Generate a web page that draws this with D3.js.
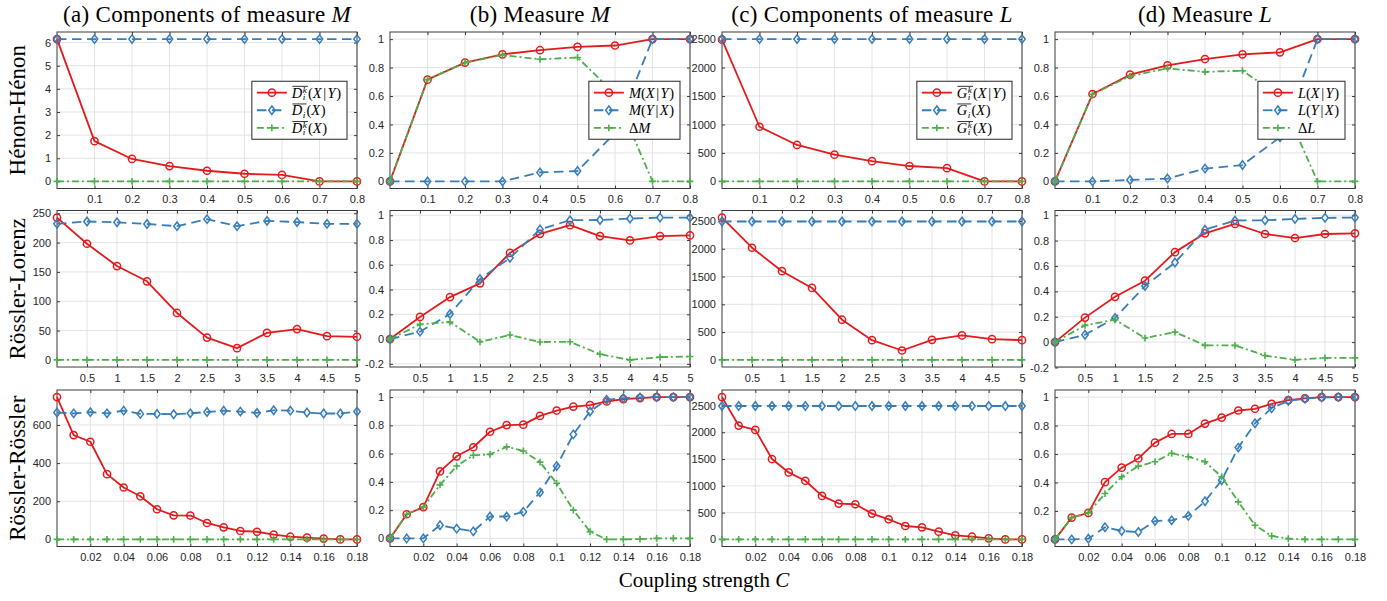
<!DOCTYPE html>
<html><head><meta charset="utf-8">
<script src="https://cdn.jsdelivr.net/npm/d3@7"></script>
<style>body{margin:0;background:#fff}svg{display:block}</style>
</head><body>
<svg id="c" width="1387" height="601"></svg>
<script>
// ---------------- data ----------------
const xHH = [0, 0.1, 0.2, 0.3, 0.4, 0.5, 0.6, 0.7, 0.8];
const xRL = [0, 0.5, 1, 1.5, 2, 2.5, 3, 3.5, 4, 4.5, 5];
const xRR = [0, 0.01, 0.02, 0.03, 0.04, 0.05, 0.06, 0.07, 0.08, 0.09, 0.1, 0.11, 0.12, 0.13, 0.14, 0.15, 0.16, 0.17, 0.18];

const xTicksHH = [0.1, 0.2, 0.3, 0.4, 0.5, 0.6, 0.7, 0.8];
const xTicksRL = [0.5, 1, 1.5, 2, 2.5, 3, 3.5, 4, 4.5, 5];
const xTicksRR = [0.02, 0.04, 0.06, 0.08, 0.1, 0.12, 0.14, 0.16, 0.18];

const yTicksD_HH = [0, 1, 2, 3, 4, 5, 6];
const yTicksD_RL = [0, 50, 100, 150, 200, 250];
const yTicksD_RR = [0, 200, 400, 600];
const yTicksG = [0, 500, 1000, 1500, 2000, 2500];
const yTicksUnit = [0, 0.2, 0.4, 0.6, 0.8, 1];
const yTicksUnitNeg = [-0.2, 0, 0.2, 0.4, 0.6, 0.8, 1];

// Hénon-Hénon
const hhDkXY = [6.15, 1.74, 0.97, 0.66, 0.46, 0.33, 0.28, 0, 0];
const hhDX   = [6.15, 6.15, 6.15, 6.15, 6.15, 6.15, 6.15, 6.15, 6.15];
const hhDkX  = [0, 0, 0, 0, 0, 0, 0, 0, 0];
const hhMXY  = [0, 0.715, 0.835, 0.893, 0.922, 0.945, 0.955, 1, 1];
const hhMYX  = [0, 0, 0, 0, 0.063, 0.073, 0.34, 1, 1];
const hhDM   = [0, 0.715, 0.835, 0.888, 0.858, 0.871, 0.615, 0, 0];
const hhGkXY = [2490, 960, 640, 470, 355, 270, 232, 0, 0];
const hhGX   = [2500, 2500, 2500, 2500, 2500, 2500, 2500, 2500, 2500];
const hhGkX  = [0, 0, 0, 0, 0, 0, 0, 0, 0];
const hhLXY  = [0, 0.614, 0.75, 0.815, 0.86, 0.893, 0.907, 1, 1];
const hhLYX  = [0, 0, 0.01, 0.02, 0.09, 0.115, 0.31, 1, 1];
const hhDL   = [0, 0.612, 0.74, 0.794, 0.77, 0.778, 0.597, 0, 0];

// Rössler-Lorenz
const rlDkXY = [242.6, 198, 160, 134, 80, 38, 20, 46, 52.5, 40.5, 39.4];
const rlDX   = [232, 236, 234.6, 231.7, 228, 240, 228, 237, 235, 232, 232];
const rlDkX  = [0, 0, 0, 0, 0, 0, 0, 0, 0, 0, 0];
const rlMXY  = [0, 0.179, 0.339, 0.45, 0.696, 0.85, 0.92, 0.832, 0.797, 0.832, 0.837];
const rlMYX  = [0, 0.06, 0.203, 0.485, 0.656, 0.886, 0.96, 0.962, 0.973, 0.981, 0.981];
const rlDM   = [0, 0.119, 0.138, -0.022, 0.033, -0.024, -0.022, -0.122, -0.168, -0.146, -0.141];
const rlGkXY = [2560, 2018, 1596, 1295, 723, 355, 169, 361, 440, 373, 355];
const rlGX   = [2490, 2490, 2490, 2490, 2490, 2490, 2490, 2490, 2490, 2490, 2490];
const rlGkX  = [0, 0, 0, 0, 0, 0, 0, 0, 0, 0, 0];
const rlLXY  = [0, 0.193, 0.357, 0.484, 0.709, 0.857, 0.931, 0.852, 0.82, 0.852, 0.857];
const rlLYX  = [0, 0.058, 0.19, 0.442, 0.627, 0.886, 0.958, 0.96, 0.971, 0.979, 0.981];
const rlDL   = [0, 0.132, 0.177, 0.032, 0.079, -0.026, -0.026, -0.106, -0.14, -0.124, -0.124];

// Rössler-Rössler
const rrDkXY = [746, 547, 512, 342, 272, 226, 158, 126, 125, 86, 63, 44, 40, 25, 14, 9, 4, 0, 0];
const rrDX   = [665, 661, 667, 661, 675, 658, 658, 656, 661, 668, 675, 670, 663, 677, 675, 665, 660, 660, 670];
const rrDkX  = [0, 0, 0, 0, 0, 0, 0, 0, 0, 0, 0, 0, 0, 0, 0, 0, 0, 0, 0];
const rrMXY  = [0, 0.171, 0.221, 0.474, 0.581, 0.645, 0.755, 0.802, 0.805, 0.867, 0.905, 0.933, 0.943, 0.969, 0.986, 0.993, 1, 1, 1];
const rrMYX  = [0, 0, 0, 0.093, 0.069, 0.05, 0.155, 0.155, 0.188, 0.326, 0.512, 0.736, 0.898, 0.981, 0.993, 0.998, 1, 1, 1];
const rrDM   = [0, 0.171, 0.221, 0.379, 0.512, 0.588, 0.595, 0.648, 0.619, 0.54, 0.39, 0.2, 0.048, -0.007, -0.007, -0.005, 0, 0, 0];
const rrGkXY = [2656, 2125, 2044, 1500, 1250, 1094, 812, 669, 656, 481, 375, 250, 225, 144, 75, 50, 19, 0, 0];
const rrGX   = [2490, 2490, 2490, 2490, 2490, 2490, 2490, 2490, 2490, 2490, 2490, 2490, 2490, 2490, 2490, 2490, 2490, 2490, 2490];
const rrGkX  = [0, 0, 0, 0, 0, 0, 0, 0, 0, 0, 0, 0, 0, 0, 0, 0, 0, 0, 0];
const rrLXY  = [0, 0.153, 0.186, 0.402, 0.504, 0.569, 0.68, 0.741, 0.741, 0.814, 0.856, 0.906, 0.918, 0.953, 0.979, 0.991, 1, 1, 1];
const rrLYX  = [0, 0, 0.005, 0.085, 0.059, 0.052, 0.129, 0.134, 0.165, 0.268, 0.416, 0.645, 0.816, 0.922, 0.974, 0.988, 0.998, 1, 1];
const rrDL   = [0, 0.153, 0.186, 0.322, 0.44, 0.515, 0.546, 0.605, 0.581, 0.546, 0.44, 0.264, 0.099, 0.024, 0.005, 0, 0, 0, 0];

const colTitles = [
  {pre: '(a) Components of measure ', it: 'M'},
  {pre: '(b) Measure ', it: 'M'},
  {pre: '(c) Components of measure ', it: 'L'},
  {pre: '(d) Measure ', it: 'L'}
];
const rowLabels = ['Hénon-Hénon', 'Rössler-Lorenz', 'Rössler-Rössler'];
const xAxisLabel = {pre: 'Coupling strength ', it: 'C'};

const legends = [
  [{base: 'D', over: true, sup: 'k', sub: 'i', args: '(X|Y)'},
   {base: 'D', over: true, sub: 'i', args: '(X)'},
   {base: 'D', over: true, sup: 'k', sub: 'i', args: '(X)'}],
  [{base: 'M', args: '(X|Y)'}, {base: 'M', args: '(Y|X)'}, {pre: 'Δ', base: 'M'}],
  [{base: 'G', over: true, sup: 'k', sub: 'i', args: '(X|Y)'},
   {base: 'G', over: true, sub: 'i', args: '(X)'},
   {base: 'G', over: true, sup: 'k', sub: 'i', args: '(X)'}],
  [{base: 'L', args: '(X|Y)'}, {base: 'L', args: '(Y|X)'}, {pre: 'Δ', base: 'L'}]
];

const rows = [
  {x: xHH, xt: xTicksHH, xmax: 0.8, panels: [
    {s: [hhDkXY, hhDX, hhDkX], yt: yTicksD_HH},
    {s: [hhMXY, hhMYX, hhDM], yt: yTicksUnit},
    {s: [hhGkXY, hhGX, hhGkX], yt: yTicksG},
    {s: [hhLXY, hhLYX, hhDL], yt: yTicksUnit}]},
  {x: xRL, xt: xTicksRL, xmax: 5, panels: [
    {s: [rlDkXY, rlDX, rlDkX], yt: yTicksD_RL},
    {s: [rlMXY, rlMYX, rlDM], yt: yTicksUnitNeg},
    {s: [rlGkXY, rlGX, rlGkX], yt: yTicksG},
    {s: [rlLXY, rlLYX, rlDL], yt: yTicksUnitNeg}]},
  {x: xRR, xt: xTicksRR, xmax: 0.18, panels: [
    {s: [rrDkXY, rrDX, rrDkX], yt: yTicksD_RR},
    {s: [rrMXY, rrMYX, rrDM], yt: yTicksUnit},
    {s: [rrGkXY, rrGX, rrGkX], yt: yTicksG},
    {s: [rrLXY, rrLYX, rrDL], yt: yTicksUnit}]}
];

// ---------------- layout / style ----------------
const colLeft = [57, 390, 722, 1055];
const rowTop = [32, 210.5, 390];
const W = 300, H = 156.5;
const serif = "'Liberation Serif', 'Times New Roman', serif";
const sans = "'Liberation Sans', Arial, Helvetica, sans-serif";
const COLORS = ['#e41a1c', '#377eb8', '#4daf4a'];
const DASH = [null, '9.5,5.5', '7,3,2,3'];
const fmt = v => String(+v.toFixed(4));

const svg = d3.select('#c');

function marker(g, type, color) {
  if (type === 0) g.append('circle').attr('r', 3.6).attr('fill', 'none').attr('stroke', color).attr('stroke-width', 1.5);
  else if (type === 1) g.append('path').attr('d', 'M0,-4.2L3.2,0L0,4.2L-3.2,0Z').attr('fill', 'none').attr('stroke', color).attr('stroke-width', 1.5);
  else g.append('path').attr('d', 'M-3.4,0H3.4M0,-3.4V3.4').attr('stroke', color).attr('stroke-width', 1.6);
}

// one <text> per legend label; pieces are absolutely positioned tspans
function drawMath(g, x, y, spec, fs) {
  const t = g.append('text').attr('font-family', serif).attr('font-size', fs).attr('fill', '#000');
  let cx = x;
  const piece = (str, italic, size, xx, yy) => {
    const ts = t.append('tspan').attr('x', xx).attr('y', yy)
      .attr('font-style', italic ? 'italic' : 'normal').attr('font-size', size).text(str);
    return ts.node().getComputedTextLength();
  };
  if (spec.pre) cx += piece(spec.pre, false, fs, cx, y);
  const bx = cx;
  cx += piece(spec.base, true, fs, cx, y);
  if (spec.sup || spec.sub) {
    let w = 0;
    const ss = fs * 0.64;
    if (spec.sup) w = Math.max(w, piece(spec.sup, true, ss, cx + 0.5, y - 4.6));
    if (spec.sub) w = Math.max(w, piece(spec.sub, true, ss, cx + 0.5, y + 2.4));
    cx += w + 1.5;
  } else if (spec.over) cx += 1;
  if (spec.over) g.append('line').attr('x1', bx + 0.5).attr('x2', cx).attr('y1', y - fs * 0.78).attr('y2', y - fs * 0.78)
    .attr('stroke', '#000').attr('stroke-width', 0.8);
  if (spec.args) {
    for (const ch of spec.args) {
      const it = /[A-Z]/.test(ch);
      if (ch === '|') cx += 1;
      cx += piece(ch, it, fs, cx, y);
      if (ch === '|') cx += 1.5;
      if (it) cx += 0.5;
    }
  }
  return cx;
}

rows.forEach((row, ri) => {
  const top = rowTop[ri];
  row.panels.forEach((p, ci) => {
    const left = colLeft[ci];
    const g = svg.append('g');
    const x = d3.scaleLinear().domain([0, row.xmax]).range([left, left + W]);
    const all = p.s.flat();
    const mn = d3.min(all), mx = d3.max(all), pad = 0.05 * (mx - mn);
    const y = d3.scaleLinear().domain([mn - pad, mx + pad]).range([top + H, top]);

    // grid
    g.append('g').selectAll('line').data(row.xt).join('line')
      .attr('x1', d => x(d)).attr('x2', d => x(d)).attr('y1', top).attr('y2', top + H)
      .attr('stroke', '#e3e3e3').attr('stroke-width', 1);
    g.append('g').selectAll('line').data(p.yt).join('line')
      .attr('y1', d => y(d)).attr('y2', d => y(d)).attr('x1', left).attr('x2', left + W)
      .attr('stroke', '#e3e3e3').attr('stroke-width', 1);

    // axes
    const styleAxis = (ag) => {
      ag.select('.domain').remove();
      ag.selectAll('line').attr('stroke', '#262626').attr('stroke-width', 0.9);
      ag.selectAll('text').attr('fill', '#262626').attr('font-family', sans).attr('font-size', 11);
    };
    g.append('g').attr('transform', `translate(0,${top + H})`)
      .call(d3.axisBottom(x).tickValues(row.xt).tickFormat(fmt).tickSizeInner(-3).tickSizeOuter(0).tickPadding(7))
      .call(styleAxis);
    g.append('g').attr('transform', `translate(0,${top})`)
      .call(d3.axisTop(x).tickValues(row.xt).tickFormat('').tickSizeInner(-3).tickSizeOuter(0))
      .call(styleAxis);
    g.append('g').attr('transform', `translate(${left},0)`)
      .call(d3.axisLeft(y).tickValues(p.yt).tickFormat(fmt).tickSizeInner(-3).tickSizeOuter(0).tickPadding(6))
      .call(styleAxis);
    g.append('g').attr('transform', `translate(${left + W},0)`)
      .call(d3.axisRight(y).tickValues(p.yt).tickFormat('').tickSizeInner(-3).tickSizeOuter(0))
      .call(styleAxis);
    g.append('rect').attr('x', left).attr('y', top).attr('width', W).attr('height', H)
      .attr('fill', 'none').attr('stroke', '#3a3a3a').attr('stroke-width', 1);

    // series
    p.s.forEach((vals, si) => {
      const pts = vals.map((v, i) => [row.x[i], v]);
      const line = d3.line().x(d => x(d[0])).y(d => y(d[1]));
      const path = g.append('path').attr('d', line(pts)).attr('fill', 'none')
        .attr('stroke', COLORS[si]).attr('stroke-width', 1.8).attr('stroke-linejoin', 'round');
      if (DASH[si]) path.attr('stroke-dasharray', DASH[si]);
      pts.forEach(d => {
        const mg = g.append('g').attr('transform', `translate(${x(d[0])},${y(d[1])})`);
        marker(mg, si, COLORS[si]);
      });
    });

    // legend (top row only)
    if (ri === 0) {
      const lg = svg.append('g');
      const fs = 14.5, rowH = 17.6;
      let maxEnd = 0;
      legends[ci].forEach((spec, k) => {
        const cy = 11.4 + k * rowH;
        const ln = lg.append('line').attr('x1', 5).attr('x2', 35).attr('y1', cy).attr('y2', cy)
          .attr('stroke', COLORS[k]).attr('stroke-width', 1.8);
        if (DASH[k]) ln.attr('stroke-dasharray', DASH[k]);
        marker(lg.append('g').attr('transform', `translate(20,${cy})`), k, COLORS[k]);
        const end = drawMath(lg, 40, cy + 5, spec, fs);
        maxEnd = Math.max(maxEnd, end);
      });
      const lw = maxEnd + 6, lh = 58;
      lg.insert('rect', ':first-child').attr('x', 0).attr('y', 0).attr('width', lw).attr('height', lh)
        .attr('fill', '#fff').attr('stroke', '#262626').attr('stroke-width', 1);
      lg.attr('transform', `translate(${left + W - 10 - lw},${top + H / 2 - lh / 2})`);
    }
  });

  // row label
  svg.append('text').attr('transform', `translate(25,${top + H / 2}) rotate(-90)`)
    .attr('text-anchor', 'middle').attr('font-family', serif).attr('font-size', 23).attr('fill', '#000')
    .text(rowLabels[ri]);
});

// column titles
colTitles.forEach((t, ci) => {
  const tx = svg.append('text').attr('x', colLeft[ci] + W / 2).attr('y', 22).attr('text-anchor', 'middle')
    .attr('font-family', serif).attr('font-size', 23).attr('letter-spacing', 0.3).attr('fill', '#000');
  tx.append('tspan').text(t.pre);
  tx.append('tspan').attr('font-style', 'italic').text(t.it);
});

// x-axis label
const xl = svg.append('text').attr('x', 704).attr('y', 587).attr('text-anchor', 'middle')
  .attr('font-family', serif).attr('font-size', 21).attr('fill', '#000');
xl.append('tspan').text(xAxisLabel.pre);
xl.append('tspan').attr('font-style', 'italic').text(xAxisLabel.it);
</script>
</body></html>
